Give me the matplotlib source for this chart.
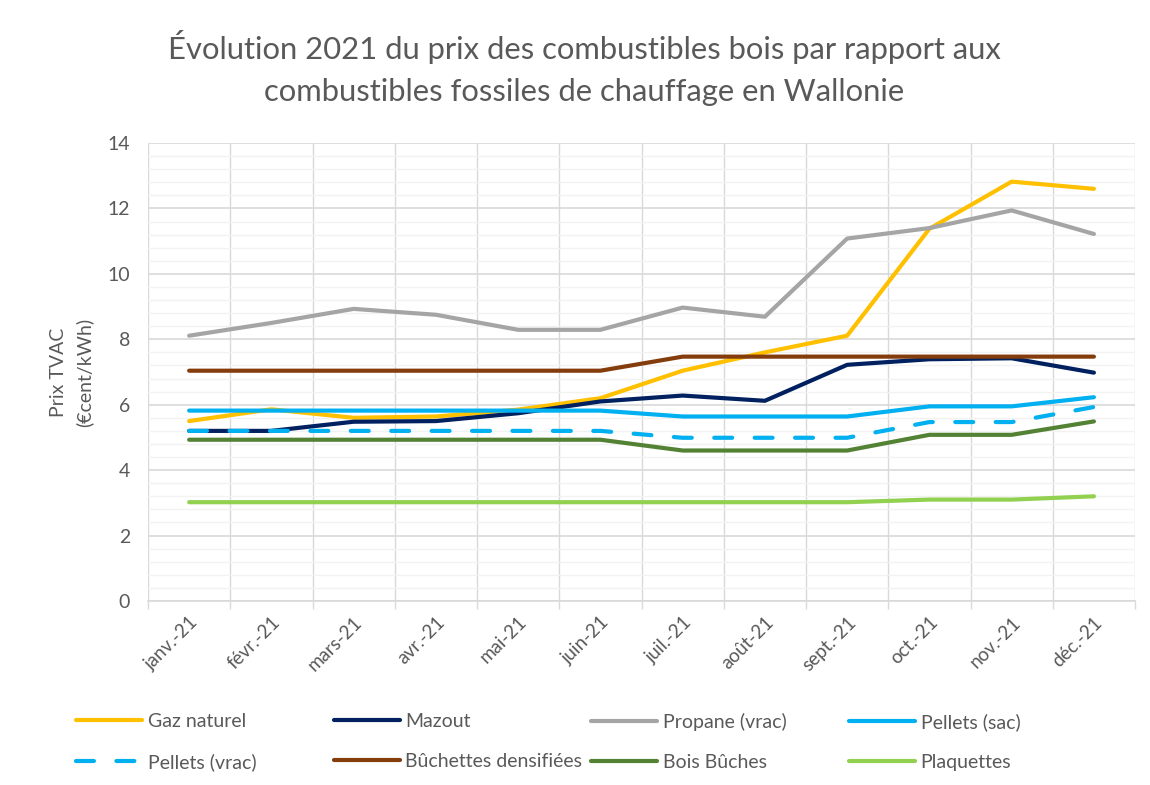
import matplotlib.pyplot as plt
from matplotlib.ticker import MultipleLocator, FixedLocator

plt.rcParams['font.family'] = ['Lato', 'DejaVu Sans']

# Données 2021 (€cent/kWh)
mois = ['janv.-21', 'févr.-21', 'mars-21', 'avr.-21', 'mai-21', 'juin-21',
        'juil.-21', 'août-21', 'sept.-21', 'oct.-21', 'nov.-21', 'déc.-21']
gaz_naturel = [5.5, 5.86, 5.6, 5.64, 5.85, 6.2, 7.04, 7.6, 8.11, 11.38, 12.82, 12.6]
mazout = [5.2, 5.2, 5.48, 5.5, 5.74, 6.1, 6.28, 6.12, 7.22, 7.39, 7.42, 6.98]
propane = [8.11, 8.5, 8.93, 8.75, 8.29, 8.29, 8.97, 8.69, 11.08, 11.4, 11.94, 11.22]
pellets_sac = [5.82, 5.82, 5.82, 5.82, 5.82, 5.82, 5.64, 5.64, 5.64, 5.95, 5.95, 6.23]
pellets_vrac = [5.2, 5.2, 5.2, 5.2, 5.2, 5.2, 4.99, 4.99, 4.99, 5.47, 5.47, 5.93]
buchettes = [7.04, 7.04, 7.04, 7.04, 7.04, 7.04, 7.47, 7.47, 7.47, 7.47, 7.47, 7.47]
bois_buches = [4.93, 4.93, 4.93, 4.93, 4.93, 4.93, 4.6, 4.6, 4.6, 5.08, 5.08, 5.49]
plaquettes = [3.02, 3.02, 3.02, 3.02, 3.02, 3.02, 3.02, 3.02, 3.02, 3.1, 3.1, 3.2]

series = [
    ('Gaz naturel', gaz_naturel, '#FFC000', '-'),
    ('Mazout', mazout, '#002060', '-'),
    ('Propane (vrac)', propane, '#A5A5A5', '-'),
    ('Pellets (sac)', pellets_sac, '#00B0F0', '-'),
    ('Pellets (vrac)', pellets_vrac, '#00B0F0', '--'),
    ('Bûchettes densifiées', buchettes, '#843C0C', '-'),
    ('Bois Bûches', bois_buches, '#548235', '-'),
    ('Plaquettes', plaquettes, '#92D050', '-'),
]

fig = plt.figure(figsize=(11.5, 7.85), dpi=100)
ax = fig.add_axes([0.1287, 0.2344, 0.8583, 0.5834])

x = list(range(len(mois)))
handles = []
for nom, vals, couleur, style in series:
    if style == '--':
        ln, = ax.plot(x, vals, color=couleur, lw=3, dashes=(4.3, 5.4),
                      dash_capstyle='round', label=nom, zorder=3)
    else:
        ln, = ax.plot(x, vals, color=couleur, lw=3, solid_capstyle='round',
                      solid_joinstyle='round', label=nom, zorder=3)
    handles.append(ln)

ax.set_xlim(-0.5, len(mois) - 0.5)
ax.set_ylim(0, 14)
ax.yaxis.set_major_locator(MultipleLocator(2))
ax.yaxis.set_minor_locator(MultipleLocator(0.4))
ax.set_xticks(x)
ax.set_xticklabels(mois, rotation=45, ha='right', rotation_mode='anchor')
ax.xaxis.set_minor_locator(FixedLocator([i - 0.5 for i in range(len(mois) + 1)]))

ax.grid(which='major', axis='y', color='#D9D9D9', lw=1.2, zorder=0)
ax.grid(which='minor', axis='y', color='#F2F2F2', lw=1.0, zorder=0)
ax.grid(which='minor', axis='x', color='#D9D9D9', lw=1.0, zorder=0)
ax.set_axisbelow(True)

for s in ['top', 'right', 'left']:
    ax.spines[s].set_visible(False)
ax.spines['bottom'].set_color('#D9D9D9')
ax.spines['bottom'].set_linewidth(1.2)

ax.tick_params(axis='y', which='both', length=0, labelsize=14, colors='#595959', pad=13)
ax.tick_params(axis='x', which='major', length=0, labelsize=13.5, colors='#595959', pad=9)
ax.tick_params(axis='x', which='minor', length=6, color='#D9D9D9', width=1.0)

ax.set_ylabel('Prix TVAC\n(€cent/kWh)', fontsize=14, color='#595959', labelpad=10,
              linespacing=1.55)

fig.text(0.508, 0.962, 'Évolution 2021 du prix des combustibles bois par rapport aux\n'
         'combustibles fossiles de chauffage en Wallonie',
         ha='center', va='top', fontsize=22.3, color='#595959', linespacing=1.62)

# légende : 4 colonnes régulières comme dans Excel
col_x = [0.066, 0.290, 0.514, 0.738]
for j in range(4):
    leg = fig.legend(handles=[handles[j], handles[j + 4]], loc='upper left',
                     bbox_to_anchor=(col_x[j], 0.092), frameon=False,
                     fontsize=14, handlelength=3.4, handletextpad=0.3,
                     labelspacing=1.2, borderaxespad=0, borderpad=0)
    for t in leg.get_texts():
        t.set_color('#595959')

fig.savefig('out.png', dpi=100)
